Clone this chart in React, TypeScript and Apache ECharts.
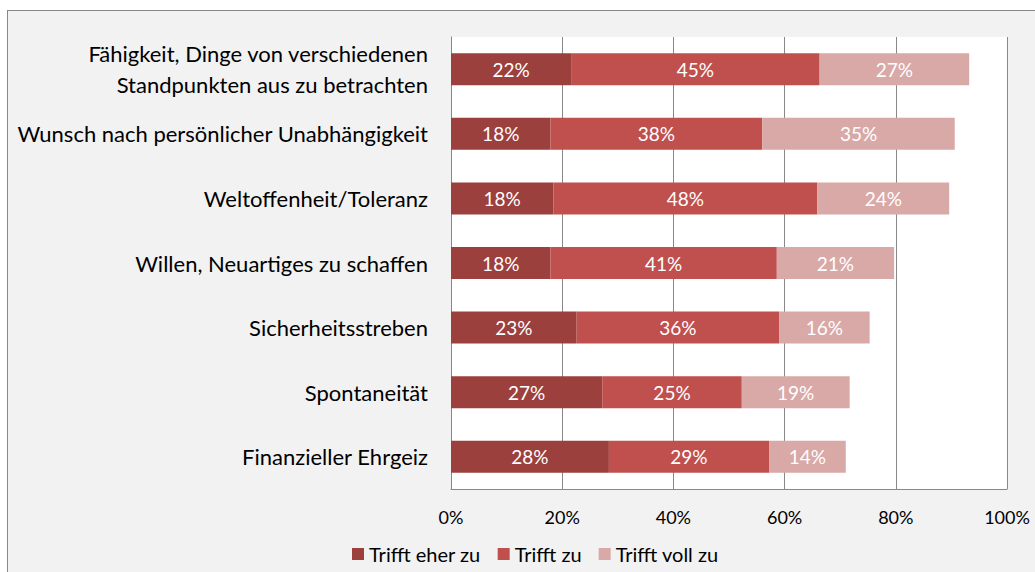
import React, { useEffect, useRef } from "react";
import * as echarts from "echarts";

const categories = [
  "Fähigkeit, Dinge von verschiedenen\nStandpunkten aus zu betrachten",
  "Wunsch nach persönlicher Unabhängigkeit",
  "Weltoffenheit/Toleranz",
  "Willen, Neuartiges zu schaffen",
  "Sicherheitsstreben",
  "Spontaneität",
  "Finanzieller Ehrgeiz",
];

const seriesNames = ["Trifft eher zu", "Trifft zu", "Trifft voll zu"];
const trifftEherZu = [21.6, 17.9, 18.4, 17.9, 22.6, 27.2, 28.4];
const trifftZu = [44.7, 38.1, 47.5, 40.7, 36.4, 25.1, 28.8];
const trifftVollZu = [26.9, 34.6, 23.7, 21.1, 16.3, 19.4, 13.8];
const xTicks = [0, 20, 40, 60, 80, 100];

const colors = ["#9c403e", "#c0504d", "#d9a9a8"];
const FONT = "Lato";

export default function App() {
  const ref = useRef<HTMLDivElement>(null);

  useEffect(() => {
    if (!ref.current) return;
    const chart = echarts.init(ref.current, undefined, { renderer: "svg" });
    const mk = (name: string, data: number[], color: string) => ({
      name,
      type: "bar",
      stack: "total",
      data,
      barWidth: 32,
      itemStyle: { color },
      label: {
        show: true,
        position: "inside",
        color: "#ffffff",
        fontFamily: FONT,
        fontSize: 19,
        formatter: (p: any) => Math.round(p.value) + "%",
      },
    });
    chart.setOption({
      animation: false,
      textStyle: { fontFamily: FONT },
      grid: {
        left: 451,
        top: 37,
        width: 556,
        height: 452,
        show: true,
        backgroundColor: "#ffffff",
        borderWidth: 0,
      },
      legend: {
        left: 352,
        top: 544,
        padding: 0,
        icon: "rect",
        itemWidth: 12,
        itemHeight: 12,
        itemGap: 17,
        textStyle: { fontFamily: FONT, fontSize: 20, color: "#000" },
        data: seriesNames,
      },
      xAxis: {
        type: "value",
        min: xTicks[0],
        max: xTicks[xTicks.length - 1],
        interval: 20,
        axisLine: { show: true, lineStyle: { color: "#888888", width: 1 } },
        axisTick: { show: false },
        splitLine: { show: true, lineStyle: { color: "#888888", width: 1 } },
        axisLabel: {
          color: "#000",
          fontFamily: FONT,
          fontSize: 18,
          margin: 19,
          formatter: (v: number) => v + "%",
        },
      },
      yAxis: {
        type: "category",
        inverse: true,
        data: categories,
        axisLine: { show: true, lineStyle: { color: "#888888", width: 1 } },
        axisTick: { show: false },
        axisLabel: {
          color: "#000",
          fontFamily: FONT,
          fontSize: 22,
          margin: 23,
          align: "right",
          lineHeight: 31,
        },
      },
      series: [
        mk(seriesNames[0], trifftEherZu, colors[0]),
        mk(seriesNames[1], trifftZu, colors[1]),
        mk(seriesNames[2], trifftVollZu, colors[2]),
      ],
    });
    return () => chart.dispose();
  }, []);

  return (
    <div style={{ position: "absolute", left: 0, top: 0, width: 1035, height: 572, overflow: "hidden" }}>
      <div
        style={{
          position: "absolute",
          left: 7,
          top: 10,
          width: 1028,
          height: 562,
          boxSizing: "border-box",
          borderLeft: "1px solid #888888",
          borderTop: "1px solid #888888",
          background: "#f2f2f2",
        }}
      />
      <div ref={ref} style={{ position: "absolute", left: 0, top: 0, width: 1035, height: 572 }} />
    </div>
  );
}
